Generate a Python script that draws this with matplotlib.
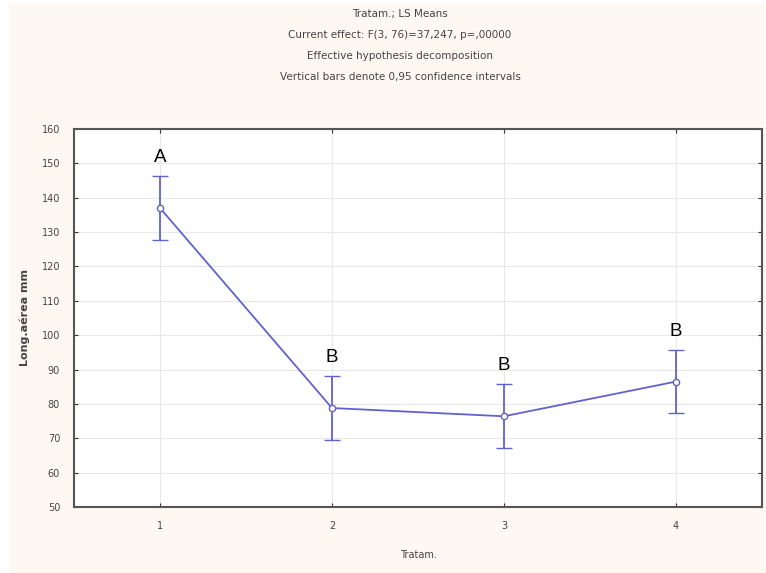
import matplotlib.pyplot as plt
from matplotlib.patches import Rectangle

# LS means per treatment with 0.95 confidence half-widths
treatments = [1, 2, 3, 4]
means = [137.0, 78.8, 76.4, 86.5]
ci_half = [9.2, 9.3, 9.3, 9.1]
groups = ["A", "B", "B", "B"]

title_lines = [
    "Tratam.; LS Means",
    "Current effect: F(3, 76)=37,247, p=,00000",
    "Effective hypothesis decomposition",
    "Vertical bars denote 0,95 confidence intervals",
]

fig = plt.figure(figsize=(7.66, 5.73), dpi=100, facecolor="#fdf8f1")
# white strip along left and top edges
fig.patches.append(Rectangle((0, 0), 9 / 766, 1, transform=fig.transFigure,
                             facecolor="white", edgecolor="none", zorder=0))
fig.patches.append(Rectangle((0, 1 - 4 / 573), 1, 4 / 573, transform=fig.transFigure,
                             facecolor="white", edgecolor="none", zorder=0))

ax = fig.add_axes([74 / 766, 1 - 507 / 573, (762 - 74) / 766, (507 - 129) / 573])
ax.set_facecolor("white")

line_col = "#6262cc"
ax.errorbar(treatments, means, yerr=ci_half, color=line_col, lw=1.3,
            marker="o", ms=4.5, mfc="white", mec=line_col, mew=1,
            capsize=6, capthick=1.3, elinewidth=1.3, zorder=3)

for x, m, c, g in zip(treatments, means, ci_half, groups):
    ax.text(x, m + c + 5.5, g, ha="center", va="center", fontsize=13.5,
            family="Liberation Sans", color="black")

ax.set_xlim(0.5, 4.5)
ax.set_ylim(50, 160)
ax.set_xticks(treatments)
ax.set_yticks(range(50, 161, 10))
ax.grid(True, color="#e8e8e8", lw=0.8, ls="-")
ax.set_axisbelow(True)
ax.tick_params(direction="in", length=3, labelsize=7, colors="#333333",
               labelcolor="#444444", top=True, right=True, pad=10)
for s in ax.spines.values():
    s.set_color("#555555")
    s.set_linewidth(1.5)

ax.set_ylabel("Long.aérea mm", fontsize=8, fontweight="bold", color="#444444", labelpad=8)
ax.set_xlabel("Tratam.", fontsize=7, color="#444444", labelpad=14)

for i, t in enumerate(title_lines):
    fig.text(400 / 766, 1 - (14 + 21 * i) / 573, t, ha="center", va="center",
             fontsize=7.5, color="#444444")

fig.savefig("out.png", dpi=100, facecolor=fig.get_facecolor())
